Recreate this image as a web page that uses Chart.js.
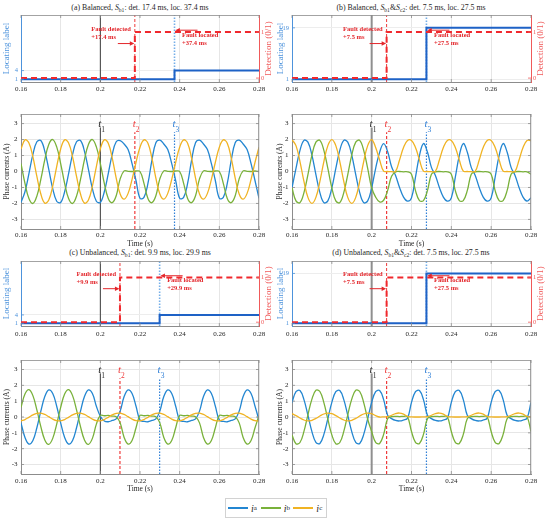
<!DOCTYPE html>
<html>
<head>
<meta charset="utf-8">
<title>Fault detection and location - phase currents</title>
<script src="https://cdn.jsdelivr.net/npm/chart.js@4.4.1/dist/chart.umd.min.js"></script>
<style>
  html, body { margin: 0; padding: 0; background: #fff; }
  #fig { position: relative; width: 550px; height: 522px; overflow: hidden;
         font-family: 'Liberation Serif', 'Times New Roman', serif; color: #262626; }
  #fig canvas { position: absolute; }
  .ttl { position: absolute; transform: translateX(-50%); white-space: nowrap; font-size: 7.8px; line-height: 9px; }
  .ttl sub { font-size: 5.6px; line-height: 0; vertical-align: -1.5px; }
  #legend { position: absolute; left: 225px; top: 498px; width: 102px; height: 20px; border: 1px solid #d2d2d2;
            box-sizing: border-box; display: flex; align-items: center; padding-left: 2px; background: #fff; }
  .lg { display: flex; align-items: center; width: 35px; font-size: 10px; }
  .lg b { display: inline-block; width: 20px; height: 1.6px; margin-right: 3px; }
  .lg i { font-style: italic; }
  .lg sub { font-size: 7px; line-height: 0; vertical-align: -3px; }
</style>
</head>
<body>
<div id="fig">
  <div class="ttl" style="left:140px;top:2.5px">(a) Balanced, <i>S</i><sub>b1</sub>: det. 17.4 ms, loc. 37.4 ms</div>
  <div class="ttl" style="left:411px;top:2.5px">(b) Balanced, <i>S</i><sub>b1</sub>&amp;<i>S</i><sub>c2</sub>: det. 7.5 ms, loc. 27.5 ms</div>
  <div class="ttl" style="left:140px;top:247.5px">(c) Unbalanced, <i>S</i><sub>b1</sub>: det. 9.9 ms, loc. 29.9 ms</div>
  <div class="ttl" style="left:411px;top:247.5px">(d) Unbalanced, <i>S</i><sub>b1</sub>&amp;<i>S</i><sub>c2</sub>: det. 7.5 ms, loc. 27.5 ms</div>

  <canvas id="locA" width="275" height="96"  style="left:0;top:0"></canvas>
  <canvas id="locB" width="275" height="96"  style="left:275px;top:0"></canvas>
  <canvas id="phA"  width="275" height="150" style="left:0;top:100px"></canvas>
  <canvas id="phB"  width="275" height="150" style="left:275px;top:100px"></canvas>
  <canvas id="locC" width="275" height="96"  style="left:0;top:246px"></canvas>
  <canvas id="locD" width="275" height="96"  style="left:275px;top:246px"></canvas>
  <canvas id="phC"  width="275" height="150" style="left:0;top:346px"></canvas>
  <canvas id="phD"  width="275" height="150" style="left:275px;top:346px"></canvas>

  <div id="legend">
    <span class="lg"><b style="background:#2386d1"></b><i>i</i><sub>a</sub></span>
    <span class="lg"><b style="background:#79b13a"></b><i>i</i><sub>b</sub></span>
    <span class="lg"><b style="background:#f0b323"></b><i>i</i><sub>c</sub></span>
  </div>
</div>

<script>
// ---- data ----
const timeGrid = [
  0.160,0.162,0.164,0.166,0.168,0.170,0.172,0.174,0.176,0.178,
  0.180,0.182,0.184,0.186,0.188,0.190,0.192,0.194,0.196,0.198,
  0.200,0.202,0.204,0.206,0.208,0.210,0.212,0.214,0.216,0.218,
  0.220,0.222,0.224,0.226,0.228,0.230,0.232,0.234,0.236,0.238,
  0.240,0.242,0.244,0.246,0.248,0.250,0.252,0.254,0.256,0.258,
  0.260,0.262,0.264,0.266,0.268,0.270,0.272,0.274,0.276,0.278,
  0.280
];
const xTicks     = [0.16, 0.18, 0.2, 0.22, 0.24, 0.26, 0.28];
const phaseTicks = [-3, -2, -1, 0, 1, 2, 3];
const detTicks   = [0, 1];

const t1 = 0.2;                                   // fault inception
const detTimes  = [0.2174, 0.2075, 0.2099, 0.2075]; // t2, panels a..d
const locTimes  = [0.2374, 0.2275, 0.2299, 0.2275]; // t3, panels a..d
const locLevels = [4, 19, 4, 19];
const detLabels = ['+17.4 ms', '+7.5 ms', '+9.9 ms', '+7.5 ms'];
const locLabels = ['+37.4 ms', '+27.5 ms', '+29.9 ms', '+27.5 ms'];

// (a) balanced, S_b1
const iaA = [
  -1.94,-1.27,-0.13,1.07,1.86,1.94,1.27,0.13,-1.07,-1.86,
  -1.94,-1.27,-0.13,1.07,1.86,1.94,1.27,0.13,-1.07,-1.86,
  -1.94,-1.27,-0.13,1.07,1.86,1.94,1.72,1.37,0.49,-0.58,
  -1.68,-1.62,-0.75,0.70,1.80,1.96,1.72,1.37,0.49,-0.58,
  -1.68,-1.62,-0.75,0.70,1.80,1.96,1.72,1.37,0.49,-0.58,
  -1.68,-1.62,-0.75,0.70,1.80,1.96,1.72,1.37,0.49,-0.58,
  -1.68
];
const ibA = [
  0.50,-0.74,-1.69,-2.00,-1.54,-0.50,0.74,1.69,2.00,1.54,
  0.50,-0.74,-1.69,-2.00,-1.54,-0.50,0.74,1.69,2.00,1.54,
  0.50,-0.74,-1.69,-1.95,-1.52,-0.46,0.04,0.01,0.00,0.03,
  0.00,-0.74,-1.69,-1.95,-1.52,-0.46,0.04,0.01,0.00,0.03,
  0.00,-0.74,-1.69,-1.95,-1.52,-0.46,0.04,0.01,0.00,0.03,
  0.00,-0.74,-1.69,-1.95,-1.52,-0.46,0.04,0.01,0.00,0.03,
  0.00
];
const icA = [
  1.41,1.98,1.78,0.91,-0.31,-1.41,-1.98,-1.78,-0.91,0.31,
  1.41,1.98,1.78,0.91,-0.31,-1.41,-1.98,-1.78,-0.91,0.31,
  1.41,1.98,1.77,0.84,-0.41,-1.41,-1.73,-1.37,-0.49,0.58,
  1.52,1.98,1.77,0.84,-0.41,-1.41,-1.73,-1.37,-0.49,0.58,
  1.52,1.98,1.77,0.84,-0.41,-1.41,-1.73,-1.37,-0.49,0.58,
  1.52,1.98,1.77,0.84,-0.41,-1.41,-1.73,-1.37,-0.49,0.58,
  1.52
];

// (b) balanced, S_b1 & S_c2
const iaB = [
  -1.02,0.19,1.32,1.95,1.84,1.02,-0.19,-1.32,-1.95,-1.84,
  -1.02,0.19,1.32,1.95,1.84,1.02,-0.19,-1.32,-1.95,-1.84,
  -1.02,0.20,1.20,1.75,1.25,0.30,-0.25,-1.00,-1.60,-1.85,
  -1.65,-0.35,1.00,1.75,1.22,0.26,-0.25,-1.00,-1.60,-1.85,
  -1.65,-0.35,1.00,1.75,1.22,0.26,-0.25,-1.00,-1.60,-1.85,
  -1.65,-0.35,1.00,1.75,1.22,0.26,-0.25,-1.00,-1.60,-1.85,
  -1.65
];
const ibB = [
  -1.02,-1.84,-1.95,-1.32,-0.19,1.02,1.84,1.95,1.32,0.19,
  -1.02,-1.84,-1.95,-1.32,-0.19,1.02,1.84,1.95,1.32,0.19,
  -1.02,-1.60,-1.90,-1.80,-1.20,-0.30,-0.02,0.00,-0.02,-0.02,
  -0.17,-1.20,-1.82,-1.82,-1.20,-0.17,-0.02,0.00,-0.02,-0.02,
  -0.17,-1.20,-1.82,-1.82,-1.20,-0.17,-0.02,0.00,-0.02,-0.02,
  -0.17,-1.20,-1.82,-1.82,-1.20,-0.17,-0.02,0.00,-0.02,-0.02,
  -0.17
];
const icB = [
  2.00,1.62,0.62,-0.62,-1.62,-2.00,-1.62,-0.62,0.62,1.62,
  2.00,1.62,0.62,-0.62,-1.62,-2.00,-1.62,-0.62,0.62,1.62,
  2.00,1.50,0.72,0.02,0.00,-0.01,0.01,0.72,1.50,1.94,
  1.94,1.50,0.72,0.02,0.00,-0.01,0.01,0.72,1.50,1.94,
  1.94,1.50,0.72,0.02,0.00,-0.01,0.01,0.72,1.50,1.94,
  1.94,1.50,0.72,0.02,0.00,-0.01,0.01,0.72,1.50,1.94,
  1.94
];

// (c) unbalanced, S_b1
const iaC = [
  -0.37,-1.29,-1.71,-1.48,-0.68,0.37,1.29,1.71,1.48,0.68,
  -0.37,-1.29,-1.71,-1.48,-0.68,0.37,1.29,1.71,1.48,0.68,
  0.05,-0.25,-0.30,-0.22,-0.12,0.37,1.29,1.71,1.48,0.68,
  -0.20,-0.28,-0.30,-0.22,-0.12,0.37,1.29,1.71,1.48,0.68,
  -0.20,-0.28,-0.30,-0.22,-0.12,0.37,1.29,1.71,1.48,0.68,
  -0.20,-0.28,-0.30,-0.22,-0.12,0.37,1.29,1.71,1.48,0.68,
  -0.20
];
const ibC = [
  0.61,1.45,1.73,1.35,0.45,-0.61,-1.45,-1.73,-1.35,-0.45,
  0.61,1.45,1.73,1.35,0.45,-0.61,-1.45,-1.73,-1.35,-0.45,
  0.10,0.08,0.10,0.06,0.02,-0.37,-1.29,-1.71,-1.48,-0.68,
  0.10,0.08,0.10,0.06,0.02,-0.37,-1.29,-1.71,-1.48,-0.68,
  0.10,0.08,0.10,0.06,0.02,-0.37,-1.29,-1.71,-1.48,-0.68,
  0.10,0.08,0.10,0.06,0.02,-0.37,-1.29,-1.71,-1.48,-0.68,
  0.10
];
const icC = [
  -0.24,-0.16,-0.02,0.13,0.23,0.24,0.16,0.02,-0.13,-0.23,
  -0.24,-0.16,-0.02,0.13,0.23,0.24,0.16,0.02,-0.13,-0.23,
  -0.24,-0.16,-0.02,0.13,0.23,0.24,0.16,0.02,-0.13,-0.23,
  -0.24,-0.16,-0.02,0.13,0.23,0.24,0.16,0.02,-0.13,-0.23,
  -0.24,-0.16,-0.02,0.13,0.23,0.24,0.16,0.02,-0.13,-0.23,
  -0.24,-0.16,-0.02,0.13,0.23,0.24,0.16,0.02,-0.13,-0.23,
  -0.24
];

// (d) unbalanced, S_b1 & S_c2
const iaD = [
  0.92,1.60,1.67,1.10,0.11,-0.92,-1.60,-1.67,-1.10,-0.11,
  0.92,1.60,1.67,1.10,0.11,-0.92,-1.60,-1.67,-1.10,-0.11,
  0.92,1.60,1.67,1.10,0.11,-0.10,-0.22,-0.25,-0.19,-0.07,
  0.92,1.60,1.67,1.10,0.11,-0.10,-0.22,-0.25,-0.19,-0.07,
  0.92,1.60,1.67,1.10,0.11,-0.10,-0.22,-0.25,-0.19,-0.07,
  0.92,1.60,1.67,1.10,0.11,-0.10,-0.22,-0.25,-0.19,-0.07,
  0.92
];
const ibD = [
  -1.13,-1.69,-1.61,-0.91,0.14,1.13,1.69,1.61,0.91,-0.14,
  -1.13,-1.69,-1.61,-0.91,0.14,1.13,1.69,1.61,0.91,-0.14,
  -0.92,-1.60,-1.67,-1.10,-0.11,0.02,0.04,0.03,0.04,0.02,
  -0.92,-1.60,-1.67,-1.10,-0.11,0.02,0.04,0.03,0.04,0.02,
  -0.92,-1.60,-1.67,-1.10,-0.11,0.02,0.04,0.03,0.04,0.02,
  -0.92,-1.60,-1.67,-1.10,-0.11,0.02,0.04,0.03,0.04,0.02,
  -0.92
];
const icD = [
  0.21,0.09,-0.06,-0.19,-0.25,-0.21,-0.09,0.06,0.19,0.25,
  0.21,0.09,-0.06,-0.19,-0.25,-0.21,-0.09,0.06,0.19,0.25,
  0.21,0.09,0.00,0.01,0.02,0.11,0.22,0.25,0.18,0.04,
  0.01,0.00,0.00,0.01,0.02,0.11,0.22,0.25,0.18,0.04,
  0.01,0.00,0.00,0.01,0.02,0.11,0.22,0.25,0.18,0.04,
  0.01,0.00,0.00,0.01,0.02,0.11,0.22,0.25,0.18,0.04,
  0.01
];

const phaseA = [iaA, iaB, iaC, iaD];
const phaseB = [ibA, ibB, ibC, ibD];
const phaseC = [icA, icB, icC, icD];

// ---- look ----
const SERIF    = "'Liberation Serif','Times New Roman',serif";
const C_A      = '#2386d1';
const C_B      = '#79b13a';
const C_C      = '#f0b323';
const LOC_BLUE = '#1e62c6';
const AX_BLUE  = '#4d93dc';
const DET_RED  = '#f0282d';
const AX_RED   = '#f05a5a';
const NOTE_RED = '#e3262b';
const T_RED    = '#ef3b3b';
const T_BLUE   = '#2f7fd6';
const T3_LIGHT = '#74aee8';
const GRID     = '#e6e6e6';
const FRAME    = '#8c8c8c';
const LOC_MAX  = 23.5;
const PH_MIN = -3.6, PH_MAX = 3.6;

Chart.defaults.font.family = SERIF;
Chart.defaults.color = '#262626';

// column & row geometry (canvas pixels)
const COLS = [
  { axisL: 21, axisR: 16, locPad: 1.6, phPad: 2.2, t1Col: '#3c3c3c', t1W: 1 },
  { axisL: 17, axisR: 19, locPad: 0,   phPad: 0.5, t1Col: '#8f8f8f', t1W: 2 }
];
const ROWS = [
  { loc: { pad: 15, xh: 14, tp: 3 }, ph: { pad: 14, xh: 21, tp: 2, tb: 1.5 } },
  { loc: { pad: 15, xh: 16, tp: 4 }, ph: { pad: 14, xh: 22, tp: 3, tb: 2.5 } }
];

function pts(xs, ys) { return xs.map((x, i) => ({ x: x, y: ys[i] })); }

function fixedTicks(list) { return s => { s.ticks = list.map(v => ({ value: v })); }; }

function xScale(showTitle, h, tp, tb) {
  return {
    type: 'linear', min: 0.16, max: 0.28,
    afterBuildTicks: fixedTicks(xTicks),
    afterFit: s => { s.height = h; },
    ticks: { font: { size: 7 }, color: '#262626', padding: tp, maxRotation: 0, autoSkip: false,
             callback: v => String(+v.toFixed(2)) },
    grid: { color: GRID, drawTicks: false },
    border: { color: FRAME },
    title: { display: showTitle, text: 'Time (s)', font: { size: 7.5 }, color: '#262626',
             padding: { top: 0, bottom: tb || 0 } }
  };
}

function baseOptions(pad, rightPad, scales) {
  return {
    responsive: false, animation: false, events: [],
    layout: { padding: { top: pad, left: 0, right: rightPad, bottom: 0 } },
    plugins: { legend: { display: false }, tooltip: { enabled: false } },
    elements: { point: { radius: 0 }, line: { fill: false, tension: 0, borderCapStyle: 'butt' } },
    scales: scales
  };
}

// frame on top/right + inward tick marks, MATLAB style
const boxPlugin = {
  id: 'box',
  afterDatasetsDraw(chart) {
    const { ctx, chartArea: a, scales } = chart;
    const L = 3;
    ctx.save();
    ctx.lineWidth = 0.8;
    ctx.strokeStyle = FRAME;
    ctx.beginPath();
    ctx.moveTo(a.left, a.top + 0.5); ctx.lineTo(a.right, a.top + 0.5);
    if (!scales.y1) { ctx.moveTo(a.right - 0.5, a.top); ctx.lineTo(a.right - 0.5, a.bottom); }
    scales.x.ticks.forEach(tk => {
      const px = scales.x.getPixelForValue(tk.value);
      ctx.moveTo(px, a.bottom); ctx.lineTo(px, a.bottom - L);
      ctx.moveTo(px, a.top); ctx.lineTo(px, a.top + L);
    });
    ctx.stroke();
    const yMarks = (sc, left, color) => {
      ctx.strokeStyle = color;
      ctx.beginPath();
      sc.ticks.forEach(tk => {
        const py = sc.getPixelForValue(tk.value);
        if (left) { ctx.moveTo(a.left, py); ctx.lineTo(a.left + L, py); }
        else { ctx.moveTo(a.right, py); ctx.lineTo(a.right - L, py); }
      });
      ctx.stroke();
    };
    if (scales.y1) { yMarks(scales.y, true, AX_BLUE); yMarks(scales.y1, false, AX_RED); }
    else { yMarks(scales.y, true, FRAME); yMarks(scales.y, false, FRAME); }
    ctx.restore();
  }
};

function arrow(ctx, x0, y0, x1, y1) {
  const dir = Math.sign(x1 - x0);
  ctx.beginPath(); ctx.moveTo(x0, y0); ctx.lineTo(x1 - dir * 3, y1); ctx.stroke();
  ctx.beginPath();
  ctx.moveTo(x1, y1); ctx.lineTo(x1 - dir * 4.5, y1 - 2.2); ctx.lineTo(x1 - dir * 4.5, y1 + 2.2);
  ctx.closePath(); ctx.fill();
}

function notesPlugin(p) {
  return {
    id: 'notes' + p,
    afterDatasetsDraw(chart) {
      const { ctx, chartArea: a } = chart;
      const x = chart.scales.x, y1 = chart.scales.y1;
      const xd = x.getPixelForValue(detTimes[p]), xl = x.getPixelForValue(locTimes[p]);
      const yd = y1.getPixelForValue(0.75), yl = y1.getPixelForValue(1.04);
      ctx.save();
      ctx.fillStyle = NOTE_RED; ctx.strokeStyle = NOTE_RED; ctx.lineWidth = 1;
      ctx.font = 'bold 6.5px ' + SERIF;
      ctx.textBaseline = 'middle'; ctx.textAlign = 'left';
      ctx.fillText('Fault detected', xd - 43.5, yd - 14.5);
      ctx.fillText(detLabels[p], xd - 43.5, yd - 6.5);
      arrow(ctx, xd - 17, yd, xd - 0.5, yd);
      ctx.fillText('Fault located', xl + 7.5, yl + 5);
      ctx.fillText(locLabels[p], xl + 7.5, yl + 13);
      arrow(ctx, xl + 23, yl, xl + 0.8, yl);
      // right axis title, reads bottom-to-top like the left one
      ctx.fillStyle = AX_RED;
      ctx.font = '9px ' + SERIF;
      ctx.textAlign = 'center';
      ctx.translate(a.right + 10, (a.top + a.bottom) / 2);
      ctx.rotate(-Math.PI / 2);
      ctx.fillText('Detection (0/1)', 0, 0);
      ctx.restore();
    }
  };
}

function tLabelPlugin(p, col) {
  return {
    id: 'tl' + p,
    afterDatasetsDraw(chart) {
      const { ctx, chartArea: a } = chart, x = chart.scales.x;
      const marks = [[t1, '1', '#2a2a2a'], [detTimes[p], '2', T_RED], [locTimes[p], '3', T_BLUE]];
      ctx.save();
      marks.forEach(([t, n, c]) => {
        const px = x.getPixelForValue(t);
        ctx.fillStyle = c;
        ctx.textBaseline = 'alphabetic';
        ctx.font = 'italic 11px ' + SERIF; ctx.textAlign = 'right';
        ctx.fillText('t', px + 1, a.top + 13);
        ctx.font = '7.5px ' + SERIF; ctx.textAlign = 'left';
        ctx.fillText(n, px + 1, a.top + 17.5);
      });
      ctx.restore();
    }
  };
}

function buildLoc(id, p, col, g) {
  const t2 = detTimes[p], t3 = locTimes[p], lvl = locLevels[p];
  const locX = [0.16, t3, t3, 0.28], locY = [1, 1, lvl, lvl];
  const detX = [0.16, t2, t2, 0.28], detY = [0, 0, 1, 1];
  new Chart(document.getElementById(id), {
    type: 'line',
    data: { datasets: [
      { data: pts(locX, locY), yAxisID: 'y', borderColor: LOC_BLUE, borderWidth: 2, order: 1 },
      { data: pts(detX, detY), yAxisID: 'y1', borderColor: DET_RED, borderWidth: 2, borderDash: [6, 4], order: 0 },
      { data: pts([t1, t1], [0, LOC_MAX]), yAxisID: 'y', borderColor: col.t1Col, borderWidth: col.t1W, order: 5 },
      { data: pts([t2, t2], [0, LOC_MAX]), yAxisID: 'y', borderColor: T_RED, borderWidth: 1, borderDash: [3, 2], order: 5 },
      { data: pts([t3, t3], [0, LOC_MAX]), yAxisID: 'y', borderColor: T3_LIGHT, borderWidth: 1.6, borderDash: [1.5, 1.5], order: 5 }
    ] },
    options: baseOptions(g.pad, 0, {
      x: xScale(false, g.xh, g.tp),
      y: {
        type: 'linear', position: 'left', min: 0, max: LOC_MAX,
        afterBuildTicks: fixedTicks([1, lvl]),
        afterFit: s => { s.width = col.axisL; },
        ticks: { font: { size: 6.5 }, color: AX_BLUE, padding: 3 },
        grid: { color: '#ededed', drawTicks: false },
        border: { color: AX_BLUE },
        title: { display: true, text: 'Locating label', font: { size: 9 }, color: AX_BLUE, padding: { top: col.locPad } }
      },
      y1: {
        type: 'linear', position: 'right', min: -0.085, max: 1.37,
        afterBuildTicks: fixedTicks(detTicks),
        afterFit: s => { s.width = col.axisR; },
        ticks: { font: { size: 6.5 }, color: AX_RED, padding: 2 },
        grid: { display: false, drawTicks: false },
        border: { color: AX_RED }
      }
    }),
    plugins: [boxPlugin, notesPlugin(p)]
  });
}

function buildPhase(id, p, col, g) {
  const t2 = detTimes[p], t3 = locTimes[p];
  const curve = (vals, color, order) => ({
    data: pts(timeGrid, vals), borderColor: color, borderWidth: 1.3, tension: 0.4, order: order
  });
  new Chart(document.getElementById(id), {
    type: 'line',
    data: { datasets: [
      curve(phaseA[p], C_A, 2),
      curve(phaseB[p], C_B, 1),
      curve(phaseC[p], C_C, 0),
      { data: pts([t1, t1], [PH_MIN, 2.75]), borderColor: col.t1Col, borderWidth: col.t1W, order: 6 },
      { data: pts([t2, t2], [PH_MIN, 2.45]), borderColor: T_RED, borderWidth: 1.2, borderDash: [3, 2], order: 6 },
      { data: pts([t3, t3], [PH_MIN, 2.45]), borderColor: T_BLUE, borderWidth: 1.2, borderDash: [1.5, 1.5], order: 6 }
    ] },
    options: baseOptions(g.pad, col.axisR, {
      x: xScale(true, g.xh, g.tp, g.tb),
      y: {
        type: 'linear', min: PH_MIN, max: PH_MAX,
        afterBuildTicks: fixedTicks(phaseTicks),
        afterFit: s => { s.width = col.axisL; },
        ticks: { font: { size: 7 }, color: '#262626', padding: 3.5 },
        grid: { color: GRID, drawTicks: false },
        border: { color: FRAME },
        title: { display: true, text: 'Phase currents (A)', font: { size: 7.5 }, color: '#333', padding: { top: col.phPad } }
      }
    }),
    plugins: [boxPlugin, tLabelPlugin(p, col)]
  });
}

buildLoc('locA', 0, COLS[0], ROWS[0].loc);
buildLoc('locB', 1, COLS[1], ROWS[0].loc);
buildPhase('phA', 0, COLS[0], ROWS[0].ph);
buildPhase('phB', 1, COLS[1], ROWS[0].ph);
buildLoc('locC', 2, COLS[0], ROWS[1].loc);
buildLoc('locD', 3, COLS[1], ROWS[1].loc);
buildPhase('phC', 2, COLS[0], ROWS[1].ph);
buildPhase('phD', 3, COLS[1], ROWS[1].ph);
</script>
</body>
</html>
